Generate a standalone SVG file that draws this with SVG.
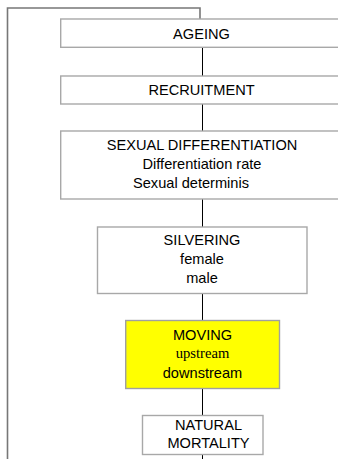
<svg xmlns="http://www.w3.org/2000/svg" width="338" height="459" viewBox="0 0 338 459">
  <style>
    .box { fill: #ffffff; stroke: #a8a8a8; stroke-width: 1.4; }
    .hl { fill: #ffff00; stroke: #a0a0a0; stroke-width: 1.4; }
    .lbl { font-family: "Liberation Sans", Arial, sans-serif; font-size: 14.6px; fill: #000; text-anchor: middle; }
    .ser { font-family: "Liberation Serif", "Times New Roman", serif; font-size: 14.6px; fill: #000; text-anchor: middle; }
    .wire { fill: none; stroke: #000; stroke-width: 1; }
    .loop { fill: none; stroke: #777; stroke-width: 1.6; }
  </style>
  <rect width="338" height="459" fill="#ffffff"/>

  <!-- connectors -->
  <g id="connectors">
    <polyline class="loop" points="200,19 200,8 7.5,8 7.5,459"/>
    <line class="wire" x1="202.5" y1="47" x2="202.5" y2="76"/>
    <line class="wire" x1="202.5" y1="104" x2="202.5" y2="131"/>
    <line class="wire" x1="202.5" y1="199" x2="202.5" y2="227"/>
    <line class="wire" x1="202.5" y1="293.5" x2="202.5" y2="320.5"/>
    <line class="wire" x1="202.5" y1="388.5" x2="202.5" y2="415.5"/>
    <line class="wire" x1="202.5" y1="454.5" x2="202.5" y2="459"/>
  </g>

  <g id="ageing">
    <rect class="box" x="60.7" y="19" width="290" height="28.3"/>
    <text class="lbl" x="201.5" y="39.3">AGEING</text>
  </g>

  <g id="recruitment">
    <rect class="box" x="60.7" y="76" width="290" height="28"/>
    <text class="lbl" x="201.5" y="95">RECRUITMENT</text>
  </g>

  <g id="sexual-differentiation">
    <rect class="box" x="60.7" y="131" width="290" height="68"/>
    <text class="lbl" x="202" y="150">SEXUAL DIFFERENTIATION</text>
    <text class="lbl" x="202" y="169">Differentiation rate</text>
    <text class="lbl" x="191" y="187.5">Sexual determinis</text>
  </g>

  <g id="silvering">
    <rect class="box" x="97.5" y="227" width="209.5" height="66.5"/>
    <text class="lbl" x="202" y="245">SILVERING</text>
    <text class="lbl" x="202" y="264">female</text>
    <text class="lbl" x="202" y="282.7">male</text>
  </g>

  <g id="moving">
    <rect class="hl" x="125.7" y="320.5" width="153.8" height="68"/>
    <text class="lbl" x="202.5" y="340">MOVING</text>
    <text class="ser" x="202.5" y="358.3">upstream</text>
    <text class="lbl" x="202.5" y="377.7">downstream</text>
  </g>

  <g id="natural-mortality">
    <rect class="box" x="142.5" y="415.5" width="120.5" height="39"/>
    <text class="lbl" x="208.5" y="430">NATURAL</text>
    <text class="lbl" x="208.5" y="448.3">MORTALITY</text>
  </g>
</svg>
